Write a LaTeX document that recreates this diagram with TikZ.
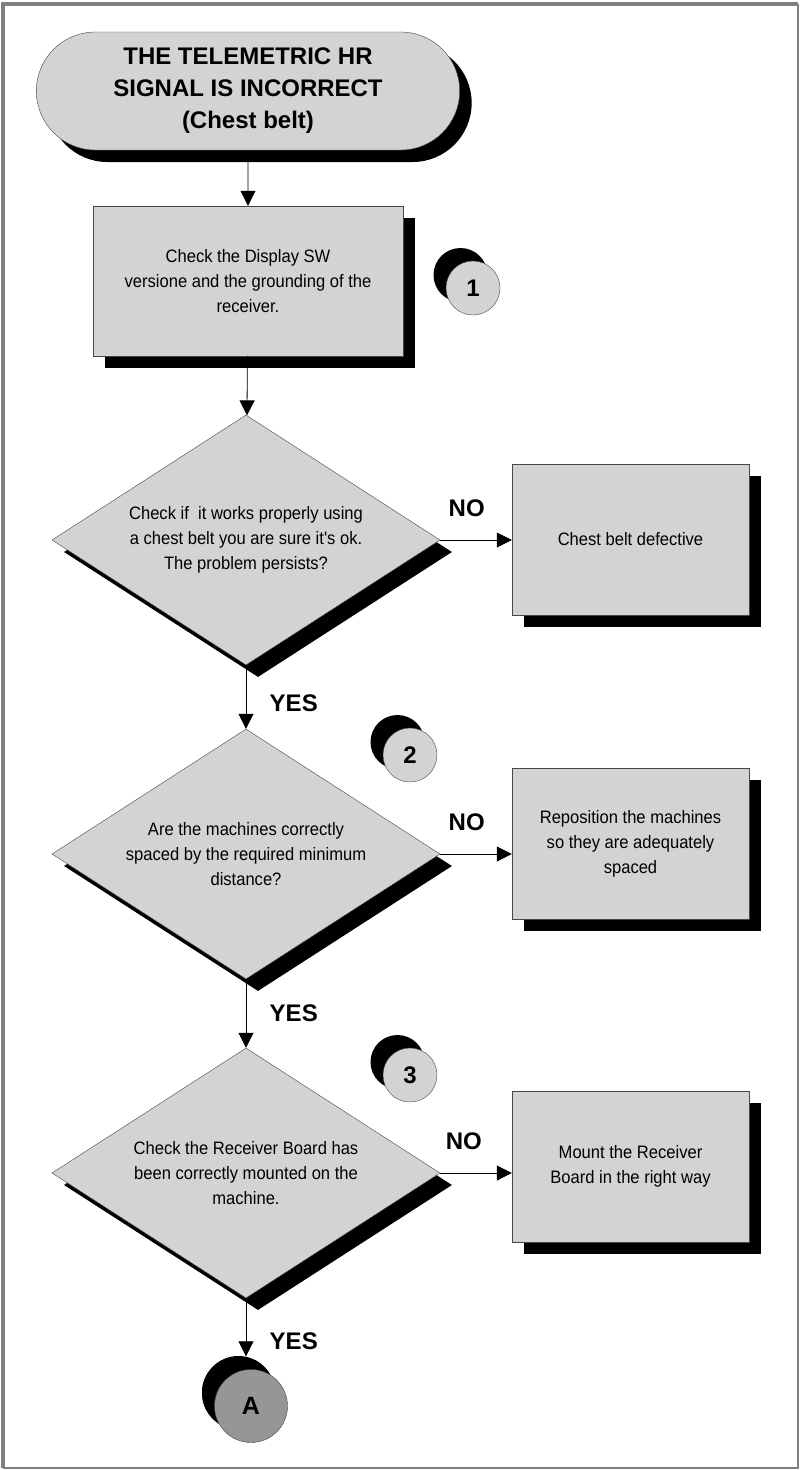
\documentclass[tikz,border=0pt]{standalone}
\usepackage{fontspec}
\setmainfont{Liberation Sans}
\newfontfamily\narrowsans[FakeStretch=0.92]{Liberation Sans}
\usetikzlibrary{arrows.meta, positioning, shapes.geometric, shapes.misc, shadows}

\definecolor{boxgray}{RGB}{211,211,211}
\definecolor{linegray}{RGB}{70,70,70}
\definecolor{framegray}{RGB}{128,128,128}
\definecolor{congray}{RGB}{150,150,150}

\begin{document}
\begin{tikzpicture}[x=1pt, y=-1pt,
  blackshadow/.style={drop shadow={shadow xshift=12pt, shadow yshift=-12pt, opacity=1, fill=black}},
  term/.style={rounded rectangle, draw=linegray, fill=boxgray, minimum width=430pt, minimum height=118pt,
    align=center, font=\bfseries\fontsize{24}{32}\selectfont, blackshadow},
  task/.style={rectangle, draw=linegray, fill=boxgray, minimum width=237pt, minimum height=151pt,
    align=center, font=\narrowsans\fontsize{18}{25}\selectfont, blackshadow},
  check/.style={diamond, aspect=1.55, inner sep=0pt, draw=linegray, fill=boxgray, minimum width=388pt,
    minimum height=250pt, align=center, font=\narrowsans\fontsize{18}{25}\selectfont, blackshadow},
  stepmark/.style={circle, draw=linegray, fill=boxgray, minimum size=54pt, inner sep=0pt,
    font=\bfseries\fontsize{24}{24}\selectfont,
    drop shadow={shadow xshift=-12.5pt, shadow yshift=13pt, opacity=1, fill=black}},
  lbl/.style={font=\bfseries\fontsize{24}{24}\selectfont},
  flow/.style={-{Triangle[length=15pt, width=15pt]}, line width=0.8pt},
]
\useasboundingbox (0,0) rectangle (802,1470);

% frame
\draw[framegray, line width=1.5pt] (4,5) rectangle (798,1468);
\draw[framegray, line width=4.5pt] (3,1468) -- (3,4) -- (798,4);

% main column
\node[term] (start) at (248,91) {THE TELEMETRIC HR\\SIGNAL IS INCORRECT\\(Chest belt)};
\node[task, minimum width=310pt, minimum height=150pt] (sw) at (248,281)
  {Check the Display SW\\versione and the grounding of the\\receiver.};
\node[check] (belt) at (246,540)
  {Check if~ it works properly using\\a chest belt you are sure it's ok.\\The problem persists?};
\node[check] (space) at (246,854)
  {Are the machines correctly\\spaced by the required minimum\\distance?};
\node[check] (board) at (246,1173)
  {Check the Receiver Board has\\been correctly mounted on the\\machine.};
\node[stepmark, minimum size=73pt, fill=congray, font=\bfseries\fontsize{25}{25}\selectfont,
  drop shadow={shadow xshift=-12.5pt, shadow yshift=13.5pt, opacity=1, fill=black}] (conA) at (251,1406) {A};

% actions
\node[task] (beltko) at (630.5,539.5) {Chest belt defective};
\node[task] (repos) at (630.5,843.5) {Reposition the machines\\so they are adequately\\spaced};
\node[task] (mount) at (630.5,1166.5) {Mount the Receiver\\Board in the right way};

% step numbers
\node[stepmark] (n1) at (473,288) {1};
\node[stepmark] (n2) at (410,755) {2};
\node[stepmark] (n3) at (410,1075) {3};

% connectors
\draw[flow] (start) -- (sw);
\draw[flow] (sw) -- (belt);
\draw[flow] (belt.south) -- (space.north) node[lbl, pos=0.6, right=20pt] {YES};
\draw[flow] (space.south) -- (board.north) node[lbl, pos=0.5, right=20pt] {YES};
\draw[flow, shorten >=13pt] (board.south) -- (board.south |- conA.north) node[lbl, pos=0.6, right=20pt] {YES};
\draw[flow] (belt.east) -- (belt.east -| beltko.west) node[lbl, pos=0.37, above=20pt] {NO};
\draw[flow] (space.east) -- (space.east -| repos.west) node[lbl, pos=0.37, above=20pt] {NO};
\draw[flow] (board.east) -- (board.east -| mount.west) node[lbl, pos=0.33, above=20pt] {NO};

\end{tikzpicture}
\end{document}
